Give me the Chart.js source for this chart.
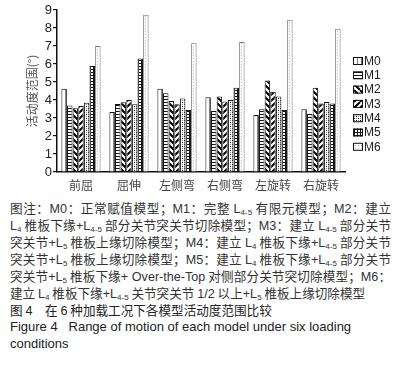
<!DOCTYPE html>
<html><head><meta charset="utf-8">
<script src="https://cdn.jsdelivr.net/npm/chart.js@4/dist/chart.umd.min.js"></script>
<style>
html,body{margin:0;padding:0;background:#fff;}
body{width:402px;height:373px;position:relative;overflow:hidden;}
#wrap{position:absolute;left:0;top:0;width:402px;height:195px;}
.ln{position:absolute;left:10px;width:381px;font-family:"Noto Sans CJK SC","Liberation Sans",sans-serif;font-size:12.6px;line-height:17px;color:#333;white-space:nowrap;}
.j{text-align:justify;text-align-last:justify;}
.lat{font-family:"Liberation Sans",Arial,sans-serif;}
sub{font-size:8px;vertical-align:-2px;line-height:0;}
</style></head><body>
<div id="wrap"><canvas id="c" width="402" height="195"></canvas></div>
<div class="ln j" style="top:199px">图注：<span class="lat">M0</span>：正常赋值模型；<span class="lat">M1</span>：完整 <span class="lat">L<sub>4-5</sub></span> 有限元模型；<span class="lat">M2</span>：建立</div>
<div class="ln j" style="top:216px"><span class="lat">L<sub>4</sub></span> 椎板下缘<span class="lat">+L<sub>4-5</sub></span> 部分关节突关节切除模型；<span class="lat">M3</span>：建立 <span class="lat">L<sub>4-5</sub></span> 部分关节</div>
<div class="ln j" style="top:233px">突关节<span class="lat">+L<sub>5</sub></span> 椎板上缘切除模型；<span class="lat">M4</span>：建立 <span class="lat">L<sub>4</sub></span> 椎板下缘<span class="lat">+L<sub>4-5</sub></span> 部分关节</div>
<div class="ln j" style="top:250px">突关节<span class="lat">+L<sub>5</sub></span> 椎板上缘切除模型；<span class="lat">M5</span>：建立 <span class="lat">L<sub>4</sub></span> 椎板下缘<span class="lat">+L<sub>4-5</sub></span> 部分关节</div>
<div class="ln j" style="top:267px">突关节<span class="lat">+L<sub>5</sub></span> 椎板下缘<span class="lat">+ Over-the-Top</span> 对侧部分关节突切除模型；<span class="lat">M6</span>：</div>
<div class="ln" style="top:284px">建立 <span class="lat">L<sub>4</sub></span> 椎板下缘<span class="lat">+L<sub>4-5</sub></span> 关节突关节 <span class="lat">1/2</span> 以上<span class="lat">+L<sub>5</sub></span> 椎板上缘切除模型</div>
<div class="ln" style="top:301px;color:#222">图 <span class="lat">4</span>　在 <span class="lat">6</span> 种加载工况下各模型活动度范围比较</div>
<div class="ln lat" style="top:318px;color:#222;font-size:13px">Figure 4&nbsp;&nbsp;&nbsp;Range of motion of each model under six loading</div>
<div class="ln lat" style="top:335px;color:#222;font-size:13px">conditions</div>
<script>
const categories = ["前屈","屈伸","左侧弯","右侧弯","左旋转","右旋转"];
const seriesNames = ["M0","M1","M2","M3","M4","M5","M6"];
const M0 = [4.63, 3.33, 4.63, 4.15, 3.17, 3.48];
const M1 = [3.70, 3.78, 4.37, 3.39, 3.48, 3.22];
const M2 = [3.54, 3.87, 3.94, 4.20, 5.09, 4.68];
const M3 = [3.67, 4.00, 3.76, 3.91, 4.46, 3.81];
const M4 = [3.85, 3.76, 4.09, 4.00, 4.19, 3.89];
const M5 = [5.89, 6.30, 3.44, 4.68, 3.44, 3.81];
const M6 = [7.00, 8.74, 7.15, 7.22, 8.46, 7.96];
const yTicks = [0,1,2,3,4,5,6,7,8,9];

const ctx = document.getElementById('c').getContext('2d');
function mk(w,h,draw){
  const c=document.createElement('canvas');c.width=w;c.height=h;
  const x=c.getContext('2d');x.fillStyle='#fff';x.fillRect(0,0,w,h);draw(x,w,h);
  return ctx.createPattern(c,'repeat');
}
const patterns = [
  mk(4,1,(x)=>{x.fillStyle='#777';x.fillRect(1,0,1,1);}),
  mk(1,3,(x)=>{x.fillStyle='#111';x.fillRect(0,0,1,1);}),
  mk(6,6,(x,w)=>{x.strokeStyle='#000';x.lineWidth=2;x.beginPath();for(const k of [-w,0,w]){x.moveTo(k,0);x.lineTo(k+w,w);}x.stroke();}),
  mk(6,6,(x,w)=>{x.strokeStyle='#000';x.lineWidth=2;x.beginPath();for(const k of [-w,0,w]){x.moveTo(k+w,0);x.lineTo(k,w);}x.stroke();}),
  mk(4,4,(x)=>{x.fillStyle='#000';x.fillRect(0,0,1,1);x.fillRect(2,2,1,1);x.fillStyle='#888';x.fillRect(2,0,1,1);x.fillRect(0,2,1,1);}),
  mk(3,3,(x)=>{x.fillStyle='#111';x.fillRect(0,0,3,1);x.fillRect(0,0,1,3);}),
  mk(3,3,(x)=>{x.fillStyle='#bbb';x.fillRect(1,1,1,1);})
];
const data = [M0,M1,M2,M3,M4,M5,M6];
const datasets = data.map((d,i)=>({
  label: seriesNames[i], data: d,
  backgroundColor: patterns[i],
  borderColor: i===6 ? '#777' : '#111',
  borderWidth: 1,
  barPercentage: 0.97, categoryPercentage: 0.82
}));

const legendPlugin = {
  id:'customLegend',
  afterDraw(chart){
    const c = chart.ctx;
    c.save();
    chart.data.datasets.forEach((ds,i)=>{
      const y = 61 + i*14.3;
      c.fillStyle = ds.backgroundColor;
      c.fillRect(353, y-4, 10, 8);
      c.strokeStyle = '#111'; c.lineWidth = 1;
      c.strokeRect(353.5, y-3.5, 9, 7);
      c.fillStyle = '#222';
      c.font = '12px "Liberation Sans", Arial, sans-serif';
      c.textBaseline = 'middle'; c.textAlign = 'left';
      c.fillText(ds.label, 364, y+0.5);
    });
    c.restore();
  }
};

new Chart(ctx, {
  type:'bar',
  data:{labels:categories, datasets},
  options:{
    responsive:false, animation:false,
    layout:{padding:{top:10,right:57,left:25,bottom:0}},
    plugins:{legend:{display:false}, tooltip:{enabled:false}},
    scales:{
      x:{
        grid:{display:false, drawTicks:false},
        border:{color:'#111', width:1.5},
        ticks:{color:'#444', padding:6, font:{family:'"Noto Sans CJK SC"', size:12}},
        afterFit(s){s.height=23;}
      },
      y:{
        min:0, max:9,
        afterBuildTicks(s){s.ticks = yTicks.map(v=>({value:v}));},
        grid:{drawOnChartArea:false, drawTicks:true, tickLength:4, color:'#111', lineWidth:1.2},
        border:{color:'#111', width:1.5},
        ticks:{autoSkip:false, color:'#222', padding:1, font:{family:'"Liberation Sans", Arial, sans-serif', size:13}},
        title:{display:true, text:'活动度范围(°)', color:'#555', padding:{top:0,bottom:4}, font:{family:'"Noto Sans CJK SC"', size:12}},
        afterFit(s){s.width=32;}
      }
    }
  },
  plugins:[legendPlugin]
});
</script>
</body></html>
